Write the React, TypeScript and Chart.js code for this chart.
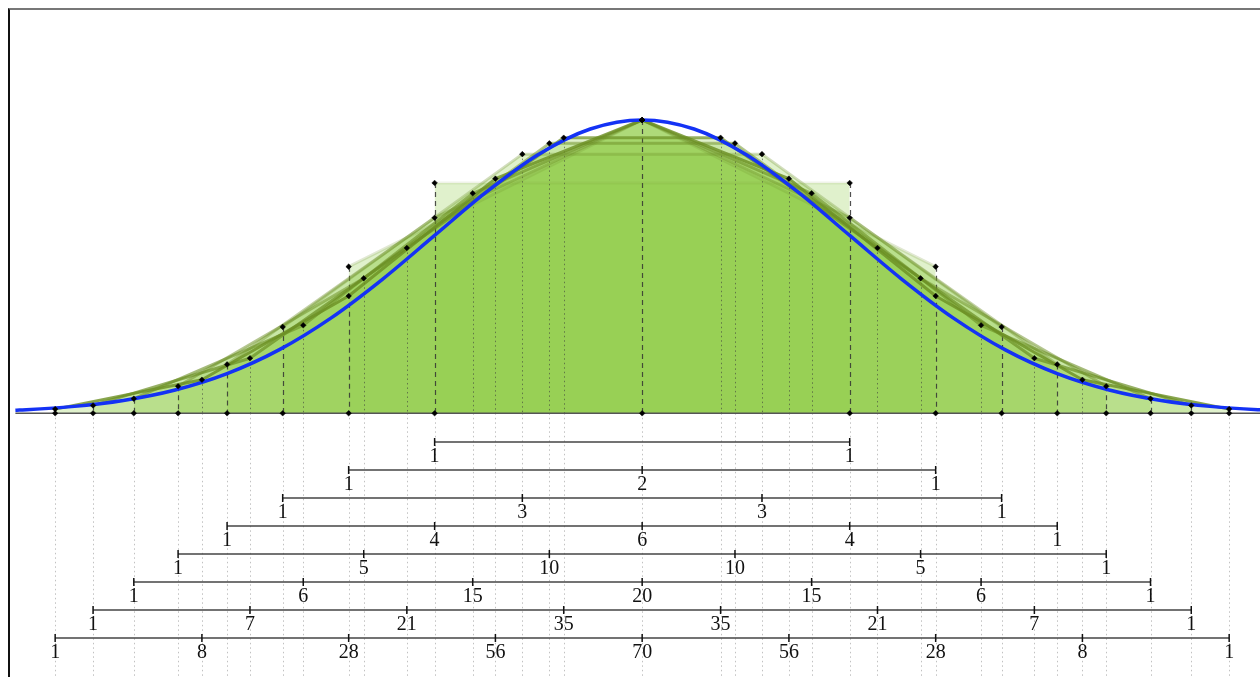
import React, { useEffect, useRef } from "react";
import { Chart, registerables } from "chart.js";

Chart.register(...registerables);

// Pascal's triangle rows n = 1..8 (also the tick labels under the chart)
const rowCoefficients: number[][] = [
  [1, 1],
  [1, 2, 1],
  [1, 3, 3, 1],
  [1, 4, 6, 4, 1],
  [1, 5, 10, 10, 5, 1],
  [1, 6, 15, 20, 15, 6, 1],
  [1, 7, 21, 35, 35, 21, 7, 1],
  [1, 8, 28, 56, 70, 56, 28, 8, 1],
];

// generalised central binomial coefficient C(n, n/2) of each row (normaliser)
const rowCentral: number[] = [1.27324, 2, 3.39531, 6, 10.865, 20, 37.2513, 70];

// standard normal curve, scaled so its peak is 1
const normalZ: number[] = [
  -3.02, -3, -2.75, -2.5, -2.25, -2, -1.75, -1.5, -1.25, -1, -0.75, -0.5, -0.25, 0,
  0.25, 0.5, 0.75, 1, 1.25, 1.5, 1.75, 2, 2.25, 2.5, 2.75, 3, 3.02,
];
const normalY: number[] = [
  0.01046, 0.01111, 0.02279, 0.04394, 0.07956, 0.13534, 0.21627, 0.32465, 0.45783,
  0.60653, 0.75484, 0.8825, 0.96923, 1, 0.96923, 0.8825, 0.75484, 0.60653, 0.45783,
  0.32465, 0.21627, 0.13534, 0.07956, 0.04394, 0.02279, 0.01111, 0.01046,
];

const rowPoints = rowCoefficients.map((row, i) => {
  const n = i + 1;
  return row.map((c, k) => ({ x: (2 * k - n) / Math.sqrt(n), y: c / rowCentral[i] }));
});

type Guide = { z: number; h: number; anchor: boolean };
const guideMap = new Map<string, Guide>();
rowPoints.forEach((pts, i) => {
  const n = i + 1;
  pts.forEach((p, k) => {
    const key = p.x.toFixed(4);
    const anchor = k === 0 || k === n || Math.abs(p.x) < 1e-9;
    const g = guideMap.get(key);
    if (!g) guideMap.set(key, { z: p.x, h: p.y, anchor });
    else {
      g.h = Math.max(g.h, p.y);
      g.anchor = g.anchor || anchor;
    }
  });
});
const guides = Array.from(guideMap.values());

const guidesPlugin = {
  id: "guides",
  beforeDatasetsDraw(chart: any) {
    const { ctx, scales } = chart;
    const x = scales.x;
    const y = scales.y;
    const y0 = y.getPixelForValue(0);
    const bottom = chart.height;
    ctx.save();
    guides.forEach((g) => {
      const px = Math.round(x.getPixelForValue(g.z)) + 0.5;
      const top = y.getPixelForValue(g.h);
      ctx.beginPath();
      if (g.anchor) {
        ctx.setLineDash([5, 4]);
        ctx.strokeStyle = "rgba(50,50,50,0.85)";
        ctx.lineWidth = 1.2;
      } else {
        ctx.setLineDash([1.5, 3]);
        ctx.strokeStyle = "rgba(60,60,60,0.6)";
        ctx.lineWidth = 1;
      }
      ctx.moveTo(px, top);
      ctx.lineTo(px, y0);
      ctx.stroke();
      ctx.beginPath();
      ctx.setLineDash([1.5, 3]);
      ctx.strokeStyle = "rgba(160,160,160,0.65)";
      ctx.lineWidth = 1;
      ctx.moveTo(px, y0);
      ctx.lineTo(px, bottom);
      ctx.stroke();
    });
    ctx.restore();
  },
  afterDatasetsDraw(chart: any) {
    const { ctx, scales } = chart;
    const x = scales.x;
    const yp = scales.yp;
    ctx.save();
    ctx.font = '20px "Liberation Serif", "DejaVu Serif", serif';
    ctx.fillStyle = "#111";
    ctx.textAlign = "center";
    ctx.textBaseline = "middle";
    rowCoefficients.forEach((row, i) => {
      const py = yp.getPixelForValue(i + 1) + 15;
      row.forEach((c, k) => {
        ctx.fillText(String(c), x.getPixelForValue(rowPoints[i][k].x), py);
      });
    });
    ctx.restore();
  },
};

export default function App() {
  const ref = useRef<HTMLCanvasElement>(null);

  useEffect(() => {
    const fillDatasets = rowPoints.map((pts, i) => {
      const n = i + 1;
      return {
        label: "n=" + n,
        data: pts,
        fill: "origin",
        backgroundColor: "rgba(142,206,72,0.28)",
        borderColor: `rgba(107,142,35,${(0.1 * n).toFixed(2)})`,
        borderWidth: 3,
        borderJoinStyle: "round",
        pointRadius: 0,
        tension: 0,
        order: 100 - n,
      };
    });

    const diamonds: { x: number; y: number }[] = [];
    rowPoints.forEach((pts) => pts.forEach((p) => diamonds.push(p)));
    guides.filter((g) => g.anchor).forEach((g) => diamonds.push({ x: g.z, y: 0 }));

    const pascalDatasets = rowPoints.map((pts, i) => ({
      label: "row " + (i + 1),
      data: pts.map((p) => ({ x: p.x, y: i + 1 })),
      yAxisID: "yp",
      fill: false,
      borderColor: "#444",
      borderWidth: 1.6,
      pointStyle: "line",
      pointRotation: 90,
      pointRadius: 4,
      pointBorderColor: "#111",
      pointBorderWidth: 1.5,
      order: 3,
    }));

    const chart = new Chart(ref.current as HTMLCanvasElement, {
      type: "line",
      data: {
        datasets: [
          ...(fillDatasets as any[]),
          {
            label: "baseline",
            data: [
              { x: -3.02, y: 0 },
              { x: 3.02, y: 0 },
            ],
            fill: false,
            borderColor: "#555",
            borderWidth: 1.6,
            pointRadius: 0,
            order: 6,
          },
          {
            label: "normal",
            data: normalZ.map((z, i) => ({ x: z, y: normalY[i] })),
            fill: false,
            borderColor: "rgb(20,50,245)",
            borderWidth: 3.5,
            pointRadius: 0,
            cubicInterpolationMode: "monotone",
            order: 5,
          },
          ...(pascalDatasets as any[]),
          {
            label: "points",
            data: diamonds,
            showLine: false,
            fill: false,
            pointStyle: "rectRot",
            pointRadius: 2.8,
            pointBackgroundColor: "#000",
            pointBorderColor: "#000",
            pointBorderWidth: 0.5,
            order: 1,
          },
        ],
      },
      options: {
        responsive: false,
        maintainAspectRatio: false,
        animation: false,
        events: [],
        layout: { padding: 0, autoPadding: false },
        plugins: {
          legend: { display: false },
          tooltip: { enabled: false },
          filler: { drawTime: "beforeDatasetsDraw" },
        } as any,
        scales: {
          x: { type: "linear", min: -3.046, max: 2.977, display: false },
          y: { type: "linear", min: -0.899, max: 1.375, display: false },
          yp: { type: "linear", reverse: true, min: -14.42857, max: 9.392857, display: false },
        },
      } as any,
      plugins: [guidesPlugin],
    });
    return () => chart.destroy();
  }, []);

  return (
    <div
      style={{
        position: "fixed",
        left: 8,
        top: 8,
        width: 1252,
        height: 669,
        borderTop: "2px solid #777",
        borderLeft: "2px solid #111",
        boxSizing: "border-box",
        background: "#fff",
        overflow: "hidden",
      }}
    >
      <canvas ref={ref} width={1250} height={667} style={{ display: "block", width: 1250, height: 667 }} />
    </div>
  );
}
